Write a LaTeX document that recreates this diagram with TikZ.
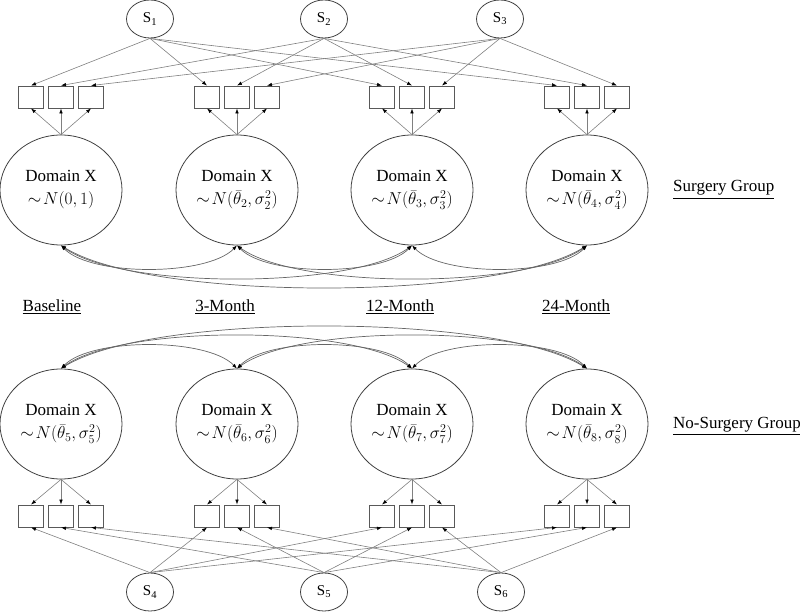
\documentclass[tikz,border=0pt]{standalone}
\usepackage{amsmath}
\usepackage{fontspec}
\setmainfont{Liberation Serif}
\usetikzlibrary{shapes.geometric,arrows.meta}
\tikzset{
 lat/.style={ellipse,draw=black!75,line width=0.8pt,minimum width=122pt,minimum height=110pt,inner sep=0pt,align=center,font=\fontsize{17}{23}\selectfont},
 snode/.style={ellipse,draw=black!75,line width=0.8pt,minimum width=47pt,minimum height=38pt,inner sep=0pt,font=\fontsize{15}{18}\selectfont},
 ind/.style={rectangle,draw=black!65,line width=0.9pt,minimum width=25pt,minimum height=22pt,inner sep=0pt},
 tip/.tip={Latex[length=5pt,width=3.6pt,color=black]},
 load/.style={draw=black!50,line width=0.6pt,-tip},
 cov/.style={draw=black!60,line width=0.7pt,tip-tip},
 lbl/.style={font=\fontsize{17}{20}\selectfont,anchor=base}
}
\begin{document}
\begin{tikzpicture}[x=1pt,y=-1pt]
\useasboundingbox (0,0) rectangle (800,612);
% top S nodes
\node[snode] (s1) at (150,19) {S\textsubscript{1}};
\node[snode] (s2) at (324,19) {S\textsubscript{2}};
\node[snode] (s3) at (500,19) {S\textsubscript{3}};
% bottom S nodes
\node[snode] (s4) at (150,592) {S\textsubscript{4}};
\node[snode] (s5) at (324,592) {S\textsubscript{5}};
\node[snode] (s6) at (501,592) {S\textsubscript{6}};
% top latent
\node[lat] (t1) at (61,190) {Domain X\\$\sim\!N(0,1)$};
\node[lat] (t2) at (237,190) {Domain X\\$\sim\!N(\bar{\theta}_2,\sigma_2^2)$};
\node[lat] (t3) at (412,190) {Domain X\\$\sim\!N(\bar{\theta}_3,\sigma_3^2)$};
\node[lat] (t4) at (587,190) {Domain X\\$\sim\!N(\bar{\theta}_4,\sigma_4^2)$};
% bottom latent
\node[lat] (b1) at (61,424) {Domain X\\$\sim\!N(\bar{\theta}_5,\sigma_5^2)$};
\node[lat] (b2) at (237,424) {Domain X\\$\sim\!N(\bar{\theta}_6,\sigma_6^2)$};
\node[lat] (b3) at (412,424) {Domain X\\$\sim\!N(\bar{\theta}_7,\sigma_7^2)$};
\node[lat] (b4) at (587,424) {Domain X\\$\sim\!N(\bar{\theta}_8,\sigma_8^2)$};
% indicators
\foreach \g/\x in {1/61,2/237,3/412,4/587}{
  \node[ind] (t\g a) at (\x-30,97) {};
  \node[ind] (t\g b) at (\x,97) {};
  \node[ind] (t\g c) at (\x+30,97) {};
  \node[ind] (b\g a) at (\x-30,516) {};
  \node[ind] (b\g b) at (\x,516) {};
  \node[ind] (b\g c) at (\x+30,516) {};
  \foreach \k in {a,b,c}{
    \draw[load] (t\g.north) -- (t\g\k.south);
    \draw[load] (b\g.south) -- (b\g\k.north);
  }
  \draw[load] (s1.south) -- (t\g a.north);
  \draw[load] (s2.south) -- (t\g b.north);
  \draw[load] (s3.south) -- (t\g c.north);
  \draw[load] (s4.north) -- (b\g a.south);
  \draw[load] (s5.north) -- (b\g b.south);
  \draw[load] (s6.north) -- (b\g c.south);
}
% covariances top
\draw[cov] (t1.south) .. controls +(30,31) and +(-30,31) .. (t2.south);
\draw[cov] (t2.south) .. controls +(30,31) and +(-30,31) .. (t3.south);
\draw[cov] (t3.south) .. controls +(30,31) and +(-30,31) .. (t4.south);
\draw[cov] (t1.south) .. controls +(60,44) and +(-60,44) .. (t3.south);
\draw[cov] (t2.south) .. controls +(60,44) and +(-60,44) .. (t4.south);
\draw[cov] (t1.south) .. controls +(90,56) and +(-90,56) .. (t4.south);
% covariances bottom
\draw[cov] (b1.north) .. controls +(30,-31) and +(-30,-31) .. (b2.north);
\draw[cov] (b2.north) .. controls +(30,-31) and +(-30,-31) .. (b3.north);
\draw[cov] (b3.north) .. controls +(30,-31) and +(-30,-31) .. (b4.north);
\draw[cov] (b1.north) .. controls +(60,-44) and +(-60,-44) .. (b3.north);
\draw[cov] (b2.north) .. controls +(60,-44) and +(-60,-44) .. (b4.north);
\draw[cov] (b1.north) .. controls +(90,-56) and +(-90,-56) .. (b4.north);
% labels
\node[lbl] (l1) at (52,311) {\underline{Baseline}};
\node[lbl] (l2) at (225,311) {\underline{3-Month}};
\node[lbl] (l3) at (400,311) {\underline{12-Month}};
\node[lbl] (l4) at (576,311) {\underline{24-Month}};
\node[lbl,anchor=base west,inner sep=0pt] (g1) at (673,192) {\underline{Surgery Group}};
\node[lbl,anchor=base west,inner sep=0pt] (g2) at (673,428) {\underline{No-Surgery Group}};
\end{tikzpicture}
\end{document}
